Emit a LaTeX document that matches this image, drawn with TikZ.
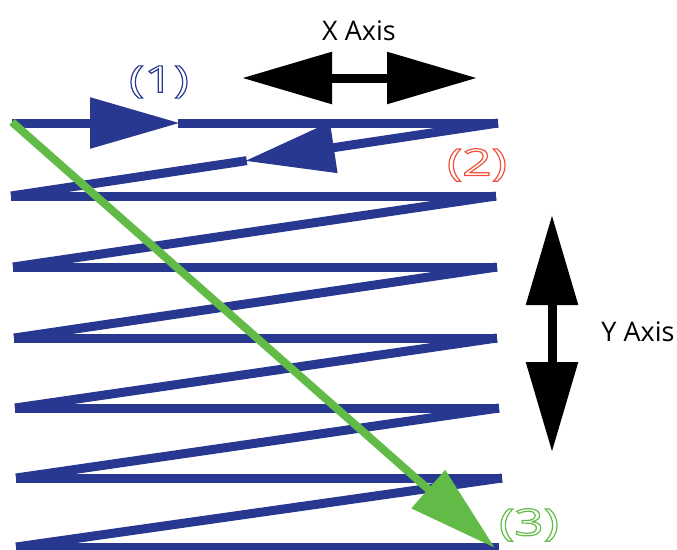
\documentclass[tikz,border=0pt]{standalone}
\usepackage{fontspec}
\setsansfont{Open Sans}
\newfontfamily\stepfont[FakeStretch=1.4]{Open Sans}
\usetikzlibrary{arrows.meta,calc}
\definecolor{zigblue}{RGB}{40,56,144}
\definecolor{scangreen}{RGB}{98,187,70}
\definecolor{stepred}{RGB}{240,82,60}
% outlined text (stroke only)
\newcommand{\outlined}[1]{\special{pdf:literal direct 1 Tr 1.2 w}#1\special{pdf:literal direct 0 Tr}}

\begin{document}
\begin{tikzpicture}[x=1pt,y=-1pt,font=\sffamily,
    zig/.style={zigblue,line width=9pt},
    bighead/.style={-{Triangle[length=90pt,width=49pt]}},
    axisarrow/.style={black,line width=9pt,{Triangle[length=90pt,width=50pt]}-{Triangle[length=90pt,width=50pt]}},
    axislabel/.style={font=\sffamily\fontsize{27}{32}\selectfont},
    steplabel/.style={font=\stepfont\fontsize{37}{44}\selectfont,inner sep=0pt}]
  \useasboundingbox (0,0) rectangle (677,549);
  % zigzag end points
  \foreach \i/\xl/\xr/\y in {1/12/498/123,2/11/496/196,3/13/497/267,4/14/497/338,
                             5/15/499/408,6/16/502/478,7/16/499/547} {
    \coordinate (L\i) at (\xl,\y);
    \coordinate (R\i) at (\xr,\y);
  }
  \coordinate (M1) at (180,123);
  \coordinate (M2) at ($(R1)!0.52!(L2)$);
  % first row and first return, with direction heads
  \draw[zig,bighead] (L1) -- (M1);
  \draw[zig] ($(M1)!-2pt!(R1)$) -- (R1);
  \draw[zig,bighead] (R1) -- (M2);
  \draw[zig] ($(M2)!-2pt!(L2)$) -- (L2);
  \foreach \i in {2,...,7}
    \draw[zig] (L\i) -- (R\i);
  \foreach \i in {2,...,6} {
    \pgfmathtruncatemacro{\j}{\i+1}
    \draw[zig] (R\i) -- (L\j);
  }
  % overall scan direction
  \coordinate (G0) at (12,122);
  \coordinate (G1) at (495,548);
  \draw[scangreen,line width=8pt,-{Triangle[length=89pt,width=49pt]}] (G0) -- (G1);
  % axes
  \coordinate (XA) at (242,78);
  \coordinate (XB) at (477,78);
  \coordinate (YA) at (552,215);
  \coordinate (YB) at (552,452);
  \draw[axisarrow] (XA) -- (XB);
  \draw[axisarrow] (YA) -- (YB);
  \node[axislabel] (xlab) at (359,31) {X Axis};
  \node[axislabel] (ylab) at (638,332) {Y Axis};
  % step labels
  \node[steplabel,zigblue] (one) at (159,82) {\outlined{(1)}};
  \node[steplabel,stepred] (two) at (477,165) {\outlined{(2)}};
  \node[steplabel,scangreen] (three) at (529,525) {\outlined{(3)}};
\end{tikzpicture}
\end{document}
